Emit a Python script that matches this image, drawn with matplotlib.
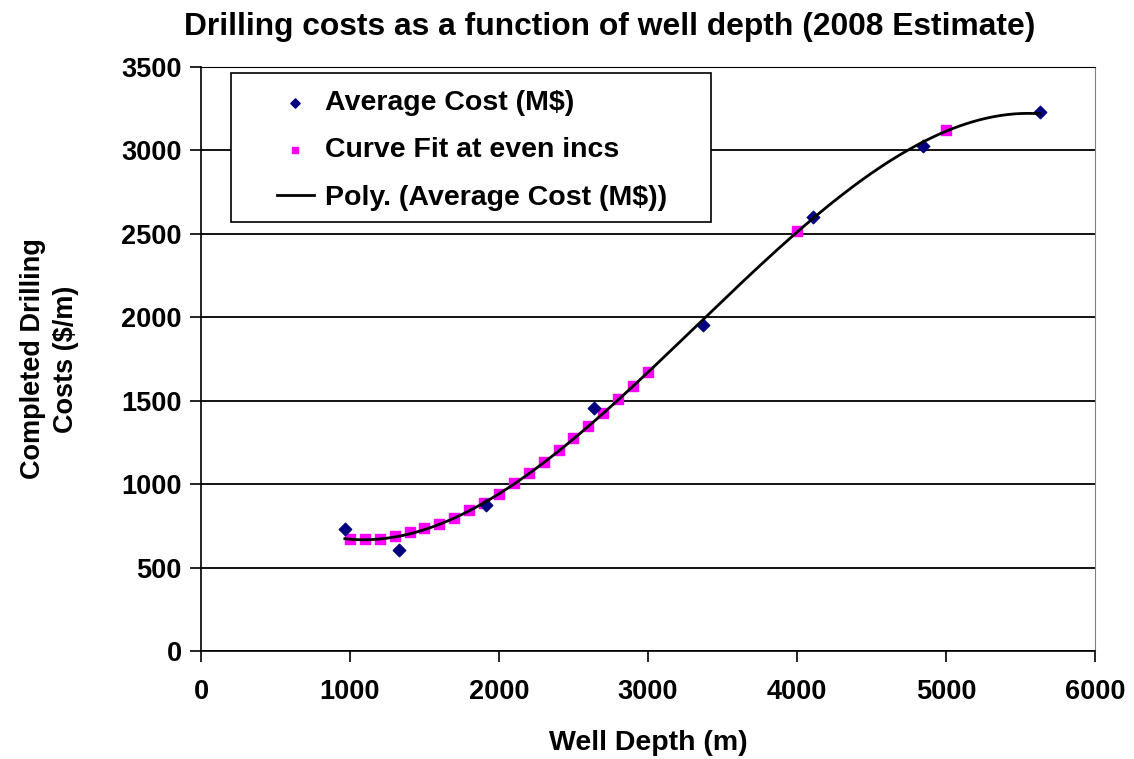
import numpy as np
import matplotlib.pyplot as plt
from matplotlib.patches import Rectangle

plt.rcParams['font.family'] = ['Liberation Sans', 'DejaVu Sans']
plt.rcParams['font.weight'] = 'bold'

# measured average cost per metre at each well depth
depth = [966, 1329, 1911, 2635, 3371, 4105, 4843, 5631]
avg_cost = [730, 605, 875, 1454, 1953, 2602, 3026, 3231]

# curve fit evaluated at even depth increments
fit_depth = [1000, 1100, 1200, 1300, 1400, 1500, 1600, 1700, 1800, 1900, 2000,
             2100, 2200, 2300, 2400, 2500, 2600, 2700, 2800, 2900, 3000, 4000, 5000]
fit_cost = [671, 670, 672, 691, 711, 739, 763, 799, 843, 889, 943,
            1005, 1065, 1131, 1204, 1274, 1350, 1428, 1510, 1590, 1672, 2518, 3122]

# polynomial trendline through the average cost points
coef = np.polyfit(depth, avg_cost, 3)
xs = np.linspace(min(depth), max(depth), 300)
ys = np.polyval(coef, xs)

fig = plt.figure(figsize=(11.34, 7.59), dpi=100)
ax = fig.add_axes([0.1772, 0.1423, 0.7884, 0.7694])

ax.scatter(depth, avg_cost, marker='D', s=40, color='#000080', zorder=4,
           label='Average Cost (M$)')
ax.scatter(fit_depth, fit_cost, marker='s', s=45, color='#FF00FF', zorder=3,
           label='Curve Fit at even incs')
ax.plot(xs, ys, color='black', lw=2, zorder=5, label='Poly. (Average Cost (M$))')

ax.set_xlim(0, 6000)
ax.set_ylim(0, 3500)
ax.set_xticks(range(0, 6001, 1000))
ax.set_yticks(range(0, 3501, 500))
ax.yaxis.grid(True, color='black', lw=1.3)
ax.set_axisbelow(True)

ax.spines['top'].set_color('black')
ax.spines['right'].set_color('#808080')
ax.spines['left'].set_linewidth(1.2)
ax.spines['bottom'].set_linewidth(1.2)
ax.tick_params(axis='both', labelsize=19.5, direction='out', length=8, width=1.2)
ax.tick_params(axis='x', pad=12)
ax.tick_params(axis='y', pad=6)
for lab in ax.get_xticklabels() + ax.get_yticklabels():
    lab.set_fontweight('bold')

ax.set_xlabel('Well Depth (m)', fontsize=20.5, fontweight='bold', labelpad=18)
ax.set_ylabel('Completed Drilling\nCosts ($/m)', fontsize=19.5, fontweight='bold',
              labelpad=30, linespacing=1.35)
fig.text(0.538, 0.964, 'Drilling costs as a function of well depth (2008 Estimate)',
         fontsize=22.9, fontweight='bold', ha='center', va='center')

# legend box drawn separately so the entries can sit with wide side margins
box = Rectangle((0.0336, 0.7346), 0.5369, 0.2551, transform=ax.transAxes,
                facecolor='white', edgecolor='black', lw=1.2, zorder=6)
ax.add_patch(box)
leg = ax.legend(loc='upper left', bbox_to_anchor=(0.085, 0.9606), fontsize=20.5,
                frameon=False, borderaxespad=0, borderpad=0, labelspacing=0.75,
                handlelength=1.3, handletextpad=0.39, markerscale=0.75)
leg.set_zorder(7)
for t in leg.get_texts():
    t.set_fontweight('bold')

fig.savefig('out.png', dpi=100)
